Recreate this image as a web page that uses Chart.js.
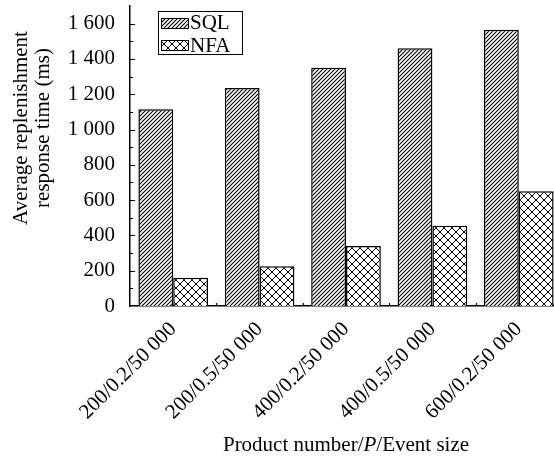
<!DOCTYPE html>
<html>
<head>
<meta charset="utf-8">
<script src="https://cdn.jsdelivr.net/npm/chart.js@4"></script>
<style>
  html, body { margin: 0; padding: 0; background: #fff; overflow: hidden; }
  canvas { display: block; }
</style>
</head>
<body>
<canvas id="myChart" width="562" height="457"></canvas>
<script>
const categories = ['200/0.2/50 000', '200/0.5/50 000', '400/0.2/50 000', '400/0.5/50 000', '600/0.2/50 000'];
const sqlTimes = [1115, 1235, 1350, 1460, 1565];
const nfaTimes = [160, 225, 340, 455, 650];
const yMax = 1700;
const yLabelStep = 200;

const FONT = 'Liberation Serif';

// hatch fills
function makePattern(size, draw) {
  const c = document.createElement('canvas');
  c.width = size; c.height = size;
  const g = c.getContext('2d');
  g.fillStyle = '#fff';
  g.fillRect(0, 0, size, size);
  g.strokeStyle = '#000';
  draw(g, size);
  return g.createPattern(c, 'repeat');
}
const ctx = document.getElementById('myChart').getContext('2d');
const sqlFill = makePattern(4, (g, s) => {
  g.lineWidth = 1.1;
  g.beginPath();
  g.moveTo(-1, s + 1); g.lineTo(s + 1, -1);
  g.moveTo(-1, 1); g.lineTo(1, -1);
  g.moveTo(s - 1, s + 1); g.lineTo(s + 1, s - 1);
  g.stroke();
});
const nfaFill = makePattern(8, (g, s) => {
  g.lineWidth = 1;
  g.beginPath();
  g.moveTo(0, s); g.lineTo(s, 0);
  g.moveTo(0, 0); g.lineTo(s, s);
  g.stroke();
});

function fmt(v) {
  return String(v).replace(/\B(?=(\d{3})+(?!\d))/g, ' ');
}

const decor = {
  id: 'decor',
  afterDraw(chart) {
    const { ctx, chartArea: a, scales: { x, y } } = chart;
    ctx.save();
    ctx.strokeStyle = '#000';
    ctx.fillStyle = '#000';
    ctx.lineWidth = 1.2;

    // inward y ticks
    ctx.beginPath();
    y.ticks.forEach(t => {
      if (t.value <= 0 || t.value >= yMax) return;
      const py = Math.round(y.getPixelForValue(t.value)) + 0.5;
      const len = t.value % yLabelStep === 0 ? 5 : 3;
      ctx.moveTo(a.left, py);
      ctx.lineTo(a.left + len, py);
    });
    // small x ticks between groups
    for (let i = 1; i < categories.length; i++) {
      const px = Math.round(x.getPixelForValue(i - 0.5)) + 0.5;
      ctx.moveTo(px, a.bottom);
      ctx.lineTo(px, a.bottom - 3);
    }
    ctx.stroke();

    // legend
    ctx.lineWidth = 1;
    ctx.fillStyle = '#fff';
    ctx.fillRect(158, 11, 85, 44);
    ctx.strokeRect(158.5, 11.5, 84, 43);
    const rows = [
      { label: chart.data.datasets[0].label, fill: sqlFill, y: 18, base: 29 },
      { label: chart.data.datasets[1].label, fill: nfaFill, y: 40, base: 52 }
    ];
    ctx.font = '21px "' + FONT + '"';
    ctx.textAlign = 'left';
    ctx.textBaseline = 'alphabetic';
    rows.forEach(r => {
      ctx.fillStyle = r.fill;
      ctx.fillRect(161, r.y, 28, 10);
      ctx.strokeRect(161.5, r.y + 0.5, 27, 10);
      ctx.fillStyle = '#000';
      ctx.fillText(r.label, 190, r.base);
    });

    // y title
    ctx.font = '21px "' + FONT + '"';
    ctx.textAlign = 'center';
    [['Average replenishment', 27], ['response time (ms)', 49]].forEach(([t, bx]) => {
      ctx.save();
      ctx.translate(bx, 128);
      ctx.rotate(-Math.PI / 2);
      ctx.fillText(t, 0, 0);
      ctx.restore();
    });

    // x title with italic P
    const parts = [['Product number/', false], ['P', true], ['/Event size', false]];
    let total = 0;
    parts.forEach(p => {
      ctx.font = (p[1] ? 'italic ' : '') + '21px "' + FONT + '"';
      p.w = ctx.measureText(p[0]).width;
      total += p.w;
    });
    let cx = (a.left + a.right) / 2 - total / 2;
    ctx.textAlign = 'left';
    parts.forEach(p => {
      ctx.font = (p[1] ? 'italic ' : '') + '21px "' + FONT + '"';
      ctx.fillText(p[0], cx, 451);
      cx += p.w;
    });
    ctx.restore();
  }
};

new Chart(ctx, {
  type: 'bar',
  data: {
    labels: categories,
    datasets: [{
      label: 'SQL',
      data: sqlTimes,
      backgroundColor: sqlFill,
      borderColor: '#000',
      borderWidth: 1.5
    }, {
      label: 'NFA',
      data: nfaTimes,
      backgroundColor: nfaFill,
      borderColor: '#000',
      borderWidth: 1.5
    }]
  },
  options: {
    responsive: false,
    animation: false,
    layout: { padding: { top: 6, left: 0, right: 0, bottom: 0 } },
    datasets: {
      bar: { categoryPercentage: 0.806, barPercentage: 1.0 }
    },
    plugins: {
      legend: { display: false },
      tooltip: { enabled: false }
    },
    scales: {
      x: {
        grid: { display: false, drawTicks: false },
        border: { display: true, color: '#000', width: 1.5 },
        ticks: {
          color: '#000',
          font: { family: FONT, size: 21 },
          minRotation: 45,
          maxRotation: 45,
          autoSkip: false,
          padding: 11
        },
        afterFit(scale) {
          scale.height = 151;
          scale.paddingLeft = 0;
          scale.paddingRight = 0;
        }
      },
      y: {
        min: 0,
        max: yMax,
        grid: { display: false, drawTicks: false },
        border: { display: true, color: '#000', width: 1.5 },
        ticks: {
          stepSize: 100,
          autoSkip: false,
          color: '#000',
          padding: 15,
          font: { family: FONT, size: 21 },
          callback: v => (v % yLabelStep === 0 && v < yMax) ? fmt(v) : ''
        },
        afterFit(scale) {
          scale.width = 130;
          scale.paddingTop = 0;
          scale.paddingBottom = 0;
        }
      }
    }
  },
  plugins: [decor]
});
</script>
</body>
</html>
